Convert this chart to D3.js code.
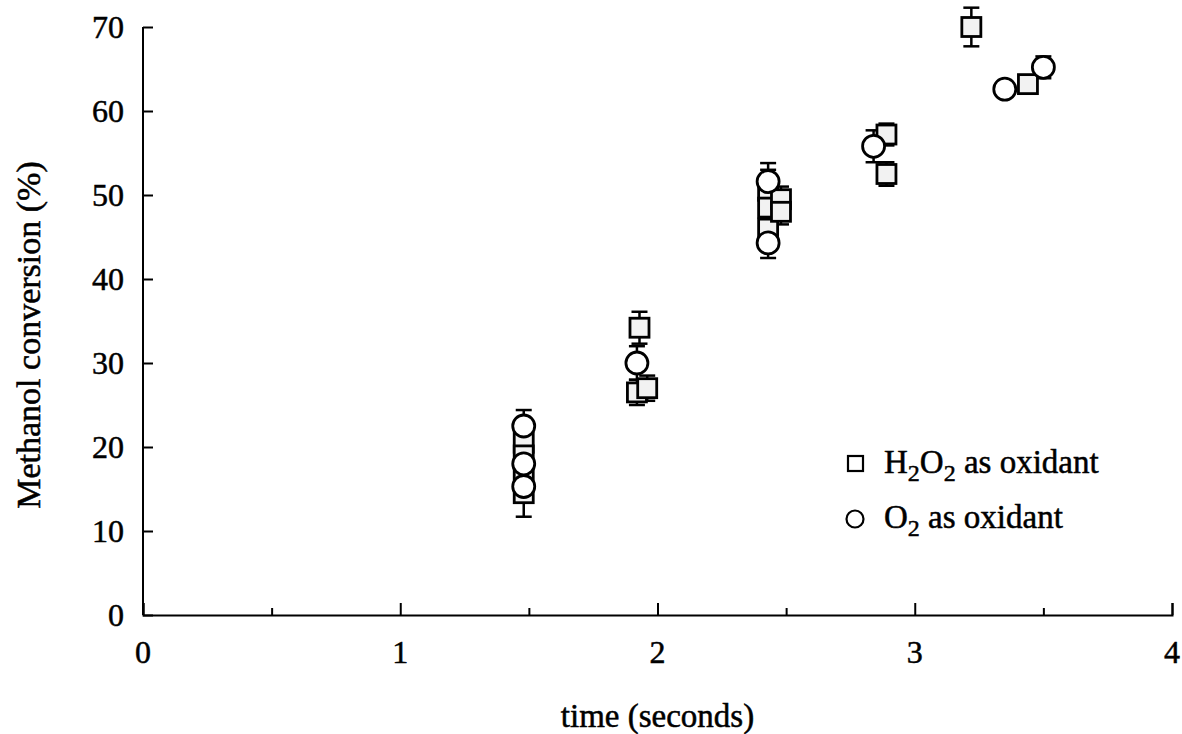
<!doctype html>
<html lang="en">
  <head>
    <meta charset="UTF-8" />
    <title>Methanol conversion vs time</title>
    <script src="https://d3js.org/d3.v7.min.js"></script>
    <style>
      body { margin: 0; background: #fff; }
      svg { display: block; font-family: "Liberation Serif", "DejaVu Serif", serif; }
      svg text { fill: #000; stroke: #000; stroke-width: 0.5px; }
    </style>
  </head>
  <body>
    <script>
      // H2O2 as oxidant
      const h2o2Time = [1.48, 1.48, 1.48, 1.48, 1.93, 1.92, 1.96, 2.43, 2.43, 2.43, 2.48, 2.48, 2.89, 2.89, 3.22, 3.44];
      const h2o2Conv = [20.5, 19, 17, 14.5, 34.2, 26.5, 27, 50.5, 48.5, 46, 49.5, 48, 57.2, 52.5, 70, 63.2];
      const h2o2Err = [1.5, 1.5, 1.5, 2.8, 1.9, 1.5, 1.5, 2.5, 2, 1.5, 1.5, 1.5, 1.3, 1.4, 2.3, 0.8];

      // O2 as oxidant
      const o2Time = [1.48, 1.48, 1.48, 1.92, 2.43, 2.43, 2.84, 3.35, 3.5];
      const o2Conv = [22.5, 18, 15.3, 30, 51.6, 44.3, 55.8, 62.6, 65.2];
      const o2Err = [1.9, 1, 1, 2, 2.2, 1.8, 1.9, 0.8, 1.3];

      const xTicks = [0, 1, 2, 3, 4];
      const xMinor = [0.5, 1.5, 2.5, 3.5];
      const yTicks = [0, 10, 20, 30, 40, 50, 60, 70];

      const width = 1182, height = 734;
      const margin = { top: 27, right: 10, bottom: 119, left: 143 };

      const svg = d3.select("body").append("svg")
        .attr("width", width).attr("height", height);

      const x = d3.scaleLinear().domain([0, 4]).range([margin.left, 1172]);
      const y = d3.scaleLinear().domain([0, 70]).range([height - margin.bottom, margin.top]);

      const h2o2 = h2o2Time.map((t, i) => ({ t, v: h2o2Conv[i], e: h2o2Err[i] }));
      const o2 = o2Time.map((t, i) => ({ t, v: o2Conv[i], e: o2Err[i] }));

      // axes, ticks pointing into the plot
      const yAxis = svg.append("g")
        .attr("transform", `translate(${margin.left},0)`)
        .call(d3.axisRight(y).tickValues(yTicks).tickSize(10).tickFormat(""));

      svg.append("g")
        .attr("transform", `translate(0,${y(0)})`)
        .call(d3.axisTop(x).tickValues(xMinor).tickSize(7).tickFormat(""))
        .call(g => g.select(".domain").remove());
      svg.append("g")
        .attr("transform", `translate(0,${y(0)})`)
        .call(d3.axisTop(x).tickValues(xTicks).tickSize(12).tickFormat(""));

      svg.selectAll(".domain, .tick line").attr("stroke", "#000").attr("stroke-width", 2);
      yAxis.select(".domain").attr("d", `M0,${y(70)}V${y(0)}`);

      svg.append("g").selectAll("text").data(yTicks).join("text")
        .attr("x", 124).attr("y", d => y(d)).attr("dy", "0.35em")
        .attr("text-anchor", "end").attr("font-size", 32)
        .text(d => d);
      svg.append("g").selectAll("text").data(xTicks).join("text")
        .attr("x", d => x(d)).attr("y", 663)
        .attr("text-anchor", "middle").attr("font-size", 32)
        .text(d => d);

      svg.append("text")
        .attr("transform", `translate(40,${(y(0) + y(70)) / 2 + 14}) rotate(-90)`)
        .attr("text-anchor", "middle").attr("font-size", 34)
        .text("Methanol conversion (%)");
      svg.append("text")
        .attr("x", (x(0) + x(4)) / 2).attr("y", 727)
        .attr("text-anchor", "middle").attr("font-size", 33)
        .text("time (seconds)");

      // error bars
      const all = h2o2.concat(o2);
      const eb = svg.append("g").attr("stroke", "#000").attr("stroke-width", 2.5);
      eb.selectAll("line.v").data(all).join("line")
        .attr("x1", d => x(d.t)).attr("x2", d => x(d.t))
        .attr("y1", d => y(d.v + d.e)).attr("y2", d => y(d.v - d.e));
      eb.selectAll("line.cap").data(all.flatMap(d => [[d.t, d.v + d.e], [d.t, d.v - d.e]])).join("line")
        .attr("x1", d => x(d[0]) - 8).attr("x2", d => x(d[0]) + 8)
        .attr("y1", d => y(d[1])).attr("y2", d => y(d[1]));

      // markers
      svg.append("g").selectAll("rect").data(h2o2).join("rect")
        .attr("x", d => x(d.t) - 9.5).attr("y", d => y(d.v) - 9.5)
        .attr("width", 19).attr("height", 19)
        .attr("fill", "#f2f2f2").attr("stroke", "#000").attr("stroke-width", 2.8);
      svg.append("g").selectAll("circle").data(o2).join("circle")
        .attr("cx", d => x(d.t)).attr("cy", d => y(d.v)).attr("r", 11)
        .attr("fill", "#fff").attr("stroke", "#000").attr("stroke-width", 2.8);

      // legend
      const leg = svg.append("g");
      leg.append("rect").attr("x", 848).attr("y", 456).attr("width", 15).attr("height", 15)
        .attr("fill", "#fff").attr("stroke", "#000").attr("stroke-width", 2.2);
      leg.append("circle").attr("cx", 855).attr("cy", 519).attr("r", 8.5)
        .attr("fill", "#fff").attr("stroke", "#000").attr("stroke-width", 2.2);
      const t1 = leg.append("text").attr("x", 884).attr("y", 473).attr("font-size", 33);
      t1.append("tspan").text("H");
      t1.append("tspan").attr("font-size", 24).attr("dy", 8).text("2");
      t1.append("tspan").attr("dy", -8).text("O");
      t1.append("tspan").attr("font-size", 24).attr("dy", 8).text("2");
      t1.append("tspan").attr("dy", -8).text(" as oxidant");
      const t2 = leg.append("text").attr("x", 884).attr("y", 528).attr("font-size", 33);
      t2.append("tspan").text("O");
      t2.append("tspan").attr("font-size", 24).attr("dy", 8).text("2");
      t2.append("tspan").attr("dy", -8).text(" as oxidant");
    </script>
  </body>
</html>
